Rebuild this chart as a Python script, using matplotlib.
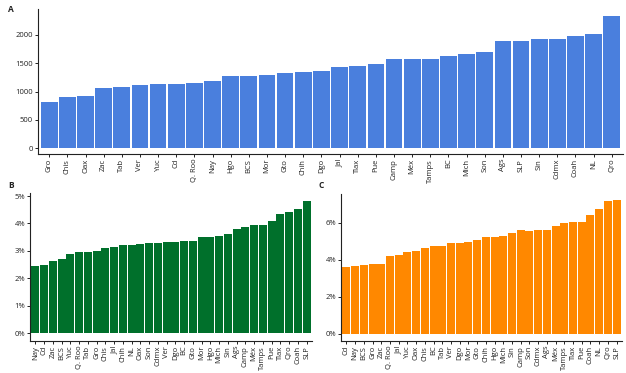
import matplotlib
matplotlib.use("Agg")
import matplotlib.pyplot as plt
from matplotlib.ticker import FuncFormatter

plt.rcParams['font.family'] = ['Open Sans', 'DejaVu Sans']

states_a = ["Gro", "Chis", "Oax", "Zac", "Tab", "Ver", "Yuc", "Cd", "Q. Roo", "Nay", "Hgo", "BCS",
            "Mor", "Gto", "Chih", "Dgo", "Jal", "Tlax", "Pue", "Camp", "Méx", "Tamps", "BC", "Mich",
            "Son", "Ags", "SLP", "Sin", "Cdmx", "Coah", "NL", "Qro"]
values_a = [820, 910, 930, 1070, 1090, 1110, 1140, 1140, 1160, 1180, 1270, 1280,
            1300, 1320, 1340, 1360, 1440, 1460, 1490, 1580, 1580, 1580, 1630, 1670,
            1700, 1890, 1890, 1930, 1930, 1980, 2020, 2340]

states_b = ["Nay", "Cd", "Zac", "BCS", "Yuc", "Q. Roo", "Tab", "Gro", "Chis", "Jal", "Chih", "NL",
            "Oax", "Son", "Cdmx", "Ver", "Dgo", "BC", "Gto", "Mor", "Hgo", "Mich", "Sin", "Ags",
            "Camp", "Méx", "Tamps", "Pue", "Tlax", "Qro", "Coah", "SLP"]
values_b = [2.44, 2.48, 2.63, 2.70, 2.89, 2.96, 2.96, 3.00, 3.11, 3.14, 3.22, 3.22,
            3.25, 3.29, 3.29, 3.33, 3.33, 3.36, 3.36, 3.51, 3.51, 3.55, 3.62, 3.80,
            3.88, 3.95, 3.95, 4.10, 4.35, 4.43, 4.54, 4.83]

states_c = ["Cd", "Nay", "BCS", "Gro", "Zac", "Q. Roo", "Jal", "Yuc", "Oax", "Chis", "BC", "Tab",
            "Ver", "Dgo", "Mor", "Gto", "Chih", "Hgo", "Mich", "Sin", "Camp", "Son", "Cdmx", "Ags",
            "Méx", "Tamps", "Tlax", "Pue", "Coah", "NL", "Qro", "SLP"]
values_c = [3.60, 3.66, 3.71, 3.80, 3.80, 4.20, 4.25, 4.41, 4.47, 4.63, 4.74, 4.74,
            4.90, 4.90, 4.95, 5.06, 5.23, 5.23, 5.28, 5.44, 5.60, 5.55, 5.60, 5.60,
            5.82, 5.98, 6.04, 6.04, 6.41, 6.74, 7.17, 7.23]

W, H = 626, 373
fig = plt.figure(figsize=(W / 100, H / 100), dpi=100)

def add_ax(l, t, r, b):
    return fig.add_axes([l / W, 1 - b / H, (r - l) / W, (b - t) / H])

def style(ax, states, values, color, ylim, yticks, fmt):
    x = list(range(len(states)))
    ax.bar(x, values, width=0.92, color=color, linewidth=0)
    ax.set_xlim(-0.62, len(states) - 0.38)
    ax.set_ylim(*ylim)
    ax.set_yticks(yticks)
    ax.yaxis.set_major_formatter(FuncFormatter(fmt))
    ax.set_xticks(x)
    ax.set_xticklabels(states, rotation=90)
    for s in ["top", "right"]:
        ax.spines[s].set_visible(False)
    for s in ["left", "bottom"]:
        ax.spines[s].set_linewidth(0.8)
        ax.spines[s].set_color("#222222")
    ax.tick_params(axis="both", labelsize=5.5, length=2.5, width=0.7, pad=1, colors="#222222")

axA = add_ax(38, 9, 623, 154)
style(axA, states_a, values_a, "#4a7fdd", (-100, 2457), [0, 500, 1000, 1500, 2000],
      lambda v, p: f"{int(v)}")
axB = add_ax(30, 193, 312, 341)
style(axB, states_b, values_b, "#00702b", (-0.29, 5.11), [0, 1, 2, 3, 4, 5],
      lambda v, p: f"{int(v)}%")
axC = add_ax(341, 194, 622, 341)
style(axC, states_c, values_c, "#ff8800", (-0.4, 7.57), [0, 2, 4, 6],
      lambda v, p: f"{int(v)}%")

fig.text(8 / W, 1 - 10 / H, "A", fontsize=6, fontweight="bold", va="center", color="#222222")
fig.text(8 / W, 1 - 185 / H, "B", fontsize=6, fontweight="bold", va="center", color="#222222")
fig.text(318 / W, 1 - 185 / H, "C", fontsize=6, fontweight="bold", va="center", color="#222222")

fig.savefig("out.png", dpi=100)
